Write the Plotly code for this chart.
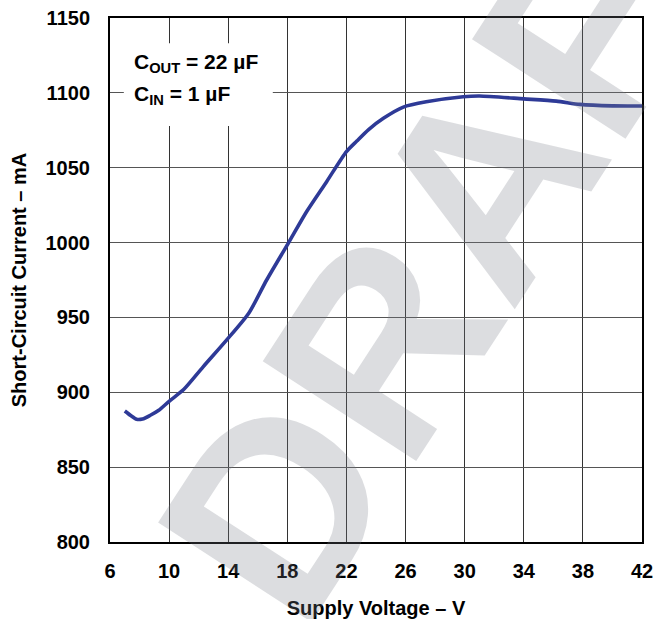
import plotly.graph_objects as go

# Data
voltage = [7.0, 7.4, 7.8, 8.2, 8.7, 9.3, 10.0, 11.0, 12.3, 13.9, 15.4, 16.6, 18.06,
           19.3, 20.66, 22.0, 22.7, 23.5, 24.5, 25.85, 27.4, 29.9, 31.0, 34.0, 36.2, 37.8, 40.0, 42.0]
current = [887.5, 884.5, 882.0, 882.2, 884.5, 888.0, 894.0, 902.0, 917.0, 935.0, 953.0, 975.0, 999.5,
           1020.6, 1040.7, 1060.8, 1067.8, 1075.5, 1083.0, 1090.5, 1094.0, 1097.4, 1097.9, 1096.0, 1094.5, 1092.3, 1091.3, 1091.2]
x_ticks = [6, 10, 14, 18, 22, 26, 30, 34, 38, 42]
y_ticks = [800, 850, 900, 950, 1000, 1050, 1100, 1150]
x_title = "Supply Voltage – V"
y_title = "Short-Circuit Current – mA"
note_lines = ["C<sub>OUT</sub> = 22 µF", "C<sub>IN</sub> = 1 µF"]
watermark = "DRAFT"

FONT = "Liberation Sans, Arial, sans-serif"
BOLD = dict(family=FONT, size=20, color="black", weight="bold")

fig = go.Figure()
fig.add_trace(go.Scatter(x=voltage, y=current, mode="lines",
                         line=dict(color="#2e3a97", width=3.6, shape="spline", smoothing=0.7),
                         hoverinfo="skip", showlegend=False))

axis_common = dict(
    showline=True, linecolor="black", linewidth=2, mirror=True,
    showgrid=True, gridwidth=1, zeroline=False, ticks="", automargin=False,
    tickfont=BOLD,
)
fig.update_xaxes(range=[6, 42], tickvals=x_ticks, ticktext=[str(v) for v in x_ticks],
                 gridcolor="#333333", ticklabelstandoff=10,
                 title=dict(text=x_title, standoff=20, font=BOLD),
                 **axis_common)
fig.update_yaxes(range=[800, 1150], tickvals=y_ticks, ticktext=[str(v) for v in y_ticks],
                 gridcolor="#555555", ticklabelstandoff=14,
                 title=dict(text=y_title, standoff=14, font=BOLD),
                 **axis_common)

# white box behind the condition notes
fig.add_shape(type="rect", xref="paper", yref="paper", x0=0.026, x1=0.306, y0=0.794, y1=0.952,
              fillcolor="white", line=dict(width=0), layer="above")
note_font = dict(family=FONT, size=21, color="black", weight="bold")
fig.add_annotation(xref="paper", yref="paper", x=0.041, y=0.914, xanchor="left", yanchor="middle",
                   text=note_lines[0], showarrow=False, font=note_font)
fig.add_annotation(xref="paper", yref="paper", x=0.041, y=0.853, xanchor="left", yanchor="middle",
                   text=note_lines[1], showarrow=False, font=note_font)

# watermark
fig.add_annotation(xref="paper", yref="paper", x=(469 - 110) / 532, y=1 - (209 - 18) / 524,
                   xanchor="center", yanchor="middle",
                   text=watermark, showarrow=False, textangle=-57,
                   font=dict(family=FONT, size=266, color="rgba(120,124,135,0.26)", weight="bold"))

fig.update_layout(
    width=657, height=619,
    margin=dict(l=110, r=15, t=18, b=77),
    paper_bgcolor="white", plot_bgcolor="white",
    font=dict(family=FONT, color="black"),
)

fig.write_html("out.html")
